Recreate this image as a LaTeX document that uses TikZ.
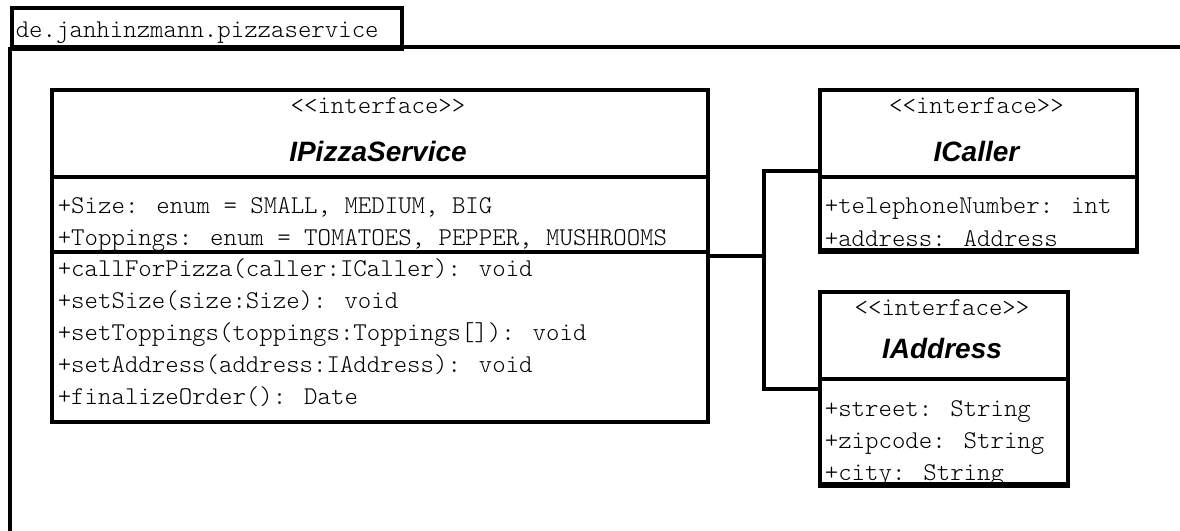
\documentclass[tikz,border=0pt]{standalone}
\usepackage{fontspec}
\setmainfont{Liberation Sans}
\newfontfamily\umlmono{Latin Modern Mono Light}
\newfontfamily\umlsans{Liberation Sans}
\begin{document}
\begin{tikzpicture}[x=1pt,y=-1pt,
  line width=3.6pt,
  umlbox/.style={draw=black, fill=white, inner sep=0pt, anchor=north west},
  mono/.style={font=\umlmono\fontsize{25.6}{30}\selectfont, inner sep=0pt},
  member/.style={mono, anchor=base west},
  stereo/.style={mono, anchor=base},
  cname/.style={font=\umlsans\bfseries\itshape\fontsize{28}{32}\selectfont, inner sep=0pt, anchor=base},
  link/.style={draw=black, line width=3.6pt}]
\useasboundingbox (0,0) rectangle (1180,530);
% package frame
\node[umlbox, minimum width=390pt, minimum height=41pt] (tab) at (10,6) {};
\node[member] (pkg) at (14,37) {de.janhinzmann.pizzaservice};
\draw (10,47) -- (1185,47);
\draw (10,47) -- (10,535);
% IPizzaService
\node[umlbox, minimum width=656pt, minimum height=332pt] (ps) at (50,88) {};
\draw (50,177) -- (706,177);
\node[stereo] (psst) at (378,113) {<{}<interface>{}>};
\node[cname] (psname) at (378,161) {IPizzaService};
\node[member] (ps1) at (56,213) {+Size: enum = SMALL, MEDIUM, BIG};
\node[member] (ps2) at (56,245) {+Toppings: enum = TOMATOES, PEPPER, MUSHROOMS};
\draw (50,252) -- (706,252);
\node[member] (ps3) at (56,276) {+callForPizza(caller:ICaller): void};
\node[member] (ps4) at (56,308) {+setSize(size:Size): void};
\node[member] (ps5) at (56,340) {+setToppings(toppings:Toppings[]): void};
\node[member] (ps6) at (56,372) {+setAddress(address:IAddress): void};
\node[member] (ps7) at (56,404) {+finalizeOrder(): Date};
% ICaller
\node[umlbox, minimum width=317pt, minimum height=162pt] (ic) at (818,88) {};
\node[stereo] (icst) at (976.5,113) {<{}<interface>{}>};
\node[cname] (icname) at (976.5,161) {ICaller};
\node[member] (ic1) at (823,213) {+telephoneNumber: int};
\node[member] (ic2) at (823,246) {+address: Address};
\draw (818,177) -- (1135,177);
\draw (818,250) -- (1135,250);
% IAddress
\node[umlbox, minimum width=248pt, minimum height=194pt] (ia) at (818,290) {};
\node[stereo] (iast) at (942,315) {<{}<interface>{}>};
\node[cname] (ianame) at (942,358) {IAddress};
\node[member] (ia1) at (823,416) {+street: String};
\node[member] (ia2) at (823,448) {+zipcode: String};
\node[member] (ia3) at (823,480) {+city: String};
\draw (818,379) -- (1066,379);
\draw (818,484) -- (1066,484);
% connectors
\coordinate (jcol) at (764,0);
\path[link] (ps.east) -- (ps.east -| jcol);
\path[link] (ic.west) -| (jcol |- ia.west) -- (ia.west);
\end{tikzpicture}
\end{document}
